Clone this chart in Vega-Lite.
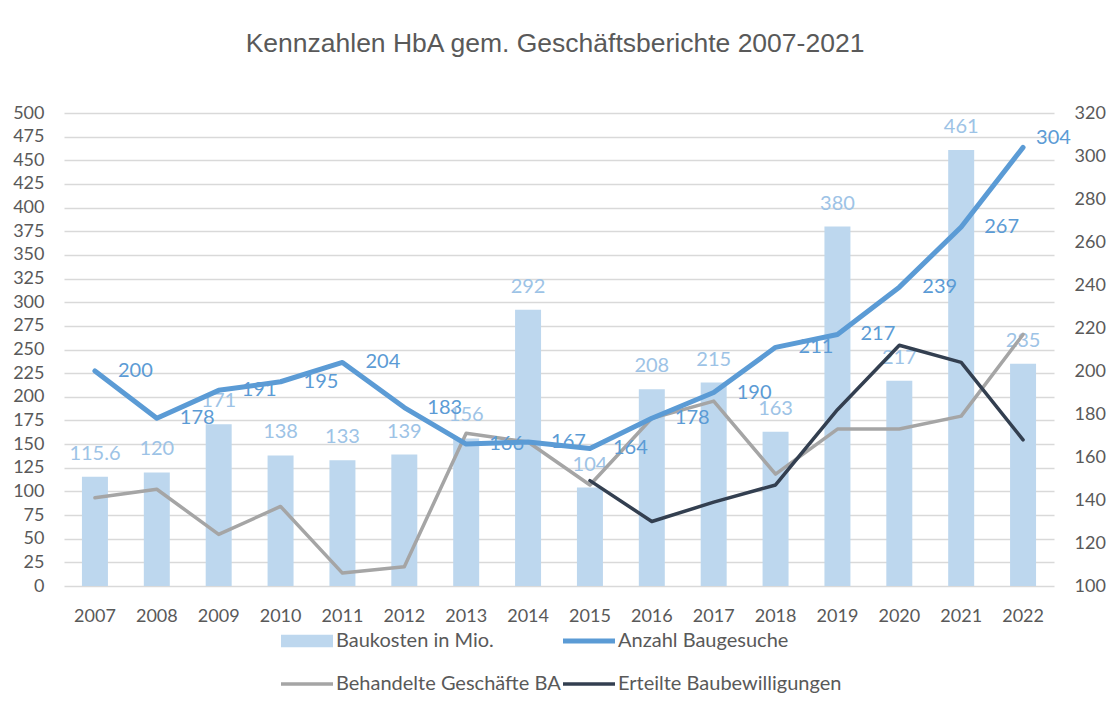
{
  "$schema": "https://vega.github.io/schema/vega-lite/v6.json",
  "width": 990,
  "height": 473,
  "autosize": {"type": "none"},
  "padding": {"left": 64, "top": 113, "right": 56, "bottom": 125},
  "background": "white",
  "config": {
    "view": {"stroke": null},
    "font": "Lato",
    "axis": {"labelFont": "Lato", "labelColor": "#595959", "domain": false, "ticks": false, "title": null}
  },
  "title": {
    "text": "Kennzahlen HbA gem. Geschäftsberichte 2007-2021",
    "font": "Liberation Sans",
    "fontSize": 26.5,
    "fontWeight": "normal",
    "color": "#595959",
    "anchor": "middle",
    "frame": "group",
    "baseline": "alphabetic",
    "offset": 26,
    "dx": -4
  },
  "data": {
    "values": [
      {"year": "2007", "baukosten": 115.6, "gesuche": 200, "geschaefte": 141, "bewilligungen": null},
      {"year": "2008", "baukosten": 120, "gesuche": 178, "geschaefte": 145, "bewilligungen": null},
      {"year": "2009", "baukosten": 171, "gesuche": 191, "geschaefte": 124, "bewilligungen": null},
      {"year": "2010", "baukosten": 138, "gesuche": 195, "geschaefte": 137, "bewilligungen": null},
      {"year": "2011", "baukosten": 133, "gesuche": 204, "geschaefte": 106, "bewilligungen": null},
      {"year": "2012", "baukosten": 139, "gesuche": 183, "geschaefte": 109, "bewilligungen": null},
      {"year": "2013", "baukosten": 156, "gesuche": 166, "geschaefte": 171, "bewilligungen": null},
      {"year": "2014", "baukosten": 292, "gesuche": 167, "geschaefte": 167, "bewilligungen": null},
      {"year": "2015", "baukosten": 104, "gesuche": 164, "geschaefte": 147, "bewilligungen": 149},
      {"year": "2016", "baukosten": 208, "gesuche": 178, "geschaefte": 178, "bewilligungen": 130},
      {"year": "2017", "baukosten": 215, "gesuche": 190, "geschaefte": 186, "bewilligungen": 139},
      {"year": "2018", "baukosten": 163, "gesuche": 211, "geschaefte": 152, "bewilligungen": 147},
      {"year": "2019", "baukosten": 380, "gesuche": 217, "geschaefte": 173, "bewilligungen": 182},
      {"year": "2020", "baukosten": 217, "gesuche": 239, "geschaefte": 173, "bewilligungen": 212},
      {"year": "2021", "baukosten": 461, "gesuche": 267, "geschaefte": 179, "bewilligungen": 204},
      {"year": "2022", "baukosten": 235, "gesuche": 304, "geschaefte": 217, "bewilligungen": 168}
    ]
  },
  "encoding": {
    "x": {
      "field": "year",
      "type": "ordinal",
      "scale": {"paddingInner": 0.58, "paddingOuter": 0.29},
      "axis": {"labelAngle": 0, "labelFontSize": 18, "labelPadding": 21, "grid": false}
    }
  },
  "layer": [
    {
      "encoding": {
        "y": {
          "field": "baukosten",
          "type": "quantitative",
          "scale": {"domain": [0, 500], "nice": false, "zero": true},
          "axis": {
            "orient": "left",
            "values": [0, 25, 50, 75, 100, 125, 150, 175, 200, 225, 250, 275, 300, 325, 350, 375, 400, 425, 450, 475, 500],
            "labelFontSize": 18,
            "labelPadding": 20,
            "grid": true,
            "gridColor": "#d9d9d9",
            "gridWidth": 1.5
          }
        }
      },
      "layer": [
        {
          "mark": {"type": "bar"},
          "encoding": {
            "color": {
              "datum": "Baukosten in Mio.",
              "scale": {
                "domain": ["Baukosten in Mio.", "Anzahl Baugesuche", "Behandelte Geschäfte BA", "Erteilte Baubewilligungen"],
                "range": ["#bdd7ee", "#5b9bd5", "#a5a5a5", "#333f50"]
              },
              "legend": {
                "orient": "none",
                "legendX": 233,
                "legendY": 518,
                "padding": 0,
                "title": null,
                "columns": 2,
                "direction": "horizontal",
                "labelFont": "Lato",
                "labelFontSize": 20,
                "labelColor": "#595959",
                "labelLimit": 400,
                "labelOffset": 19,
                "columnPadding": -8,
                "rowPadding": 23,
                "symbolType": "M-1,-0.245H1V0.245H-1Z",
                "symbolSize": 2704,
                "encode": {
                  "symbols": {
                    "update": {
                      "shape": {"signal": "datum.value === 'Baukosten in Mio.' ? 'M-1,-0.245H1V0.245H-1Z' : 'M-1,0H1'"},
                      "fill": {"signal": "datum.value === 'Baukosten in Mio.' ? '#bdd7ee' : 'transparent'"},
                      "stroke": {"signal": "datum.value === 'Baukosten in Mio.' ? 'transparent' : scale('color', datum.value)"},
                      "strokeWidth": {"signal": "datum.value === 'Anzahl Baugesuche' ? 5 : (datum.value === 'Baukosten in Mio.' ? 0 : 3.5)"},
                      "opacity": {"value": 1}
                    }
                  }
                }
              }
            }
          }
        },
        {
          "mark": {"type": "text", "font": "Lato", "fontSize": 20, "color": "#9dc3e6", "baseline": "alphabetic", "align": "center", "dy": -17},
          "encoding": {"text": {"field": "baukosten", "type": "quantitative"}}
        }
      ]
    },
    {
      "layer": [
        {
          "mark": {"type": "line", "strokeWidth": 3.5, "strokeJoin": "round", "strokeCap": "round"},
          "encoding": {
            "y": {
              "field": "geschaefte",
              "type": "quantitative",
              "scale": {"domain": [100, 320], "nice": false, "zero": false},
              "axis": {
                "orient": "right",
                "values": [100, 120, 140, 160, 180, 200, 220, 240, 260, 280, 300, 320],
                "labelFontSize": 18,
                "labelPadding": 20,
                "grid": false
              }
            },
            "color": {"datum": "Behandelte Geschäfte BA"}
          }
        },
        {
          "mark": {"type": "line", "strokeWidth": 3.5, "strokeJoin": "round", "strokeCap": "round"},
          "encoding": {
            "y": {"field": "bewilligungen", "type": "quantitative"},
            "color": {"datum": "Erteilte Baubewilligungen"}
          }
        },
        {
          "mark": {"type": "line", "strokeWidth": 5, "strokeJoin": "round", "strokeCap": "round"},
          "encoding": {
            "y": {"field": "gesuche", "type": "quantitative"},
            "color": {"datum": "Anzahl Baugesuche"}
          }
        },
        {
          "transform": [{"filter": "datum.year !== '2022'"}],
          "mark": {"type": "text", "font": "Lato", "fontSize": 20, "color": "#5b9bd5", "baseline": "middle", "align": "left", "dx": 23},
          "encoding": {
            "y": {"field": "gesuche", "type": "quantitative"},
            "text": {"field": "gesuche", "type": "quantitative"}
          }
        },
        {
          "transform": [{"filter": "datum.year === '2022'"}],
          "mark": {"type": "text", "font": "Lato", "fontSize": 20, "color": "#5b9bd5", "baseline": "middle", "align": "left", "dx": 13, "dy": -9},
          "encoding": {
            "y": {"field": "gesuche", "type": "quantitative"},
            "text": {"field": "gesuche", "type": "quantitative"}
          }
        }
      ]
    }
  ],
  "resolve": {"scale": {"y": "independent"}}
}
